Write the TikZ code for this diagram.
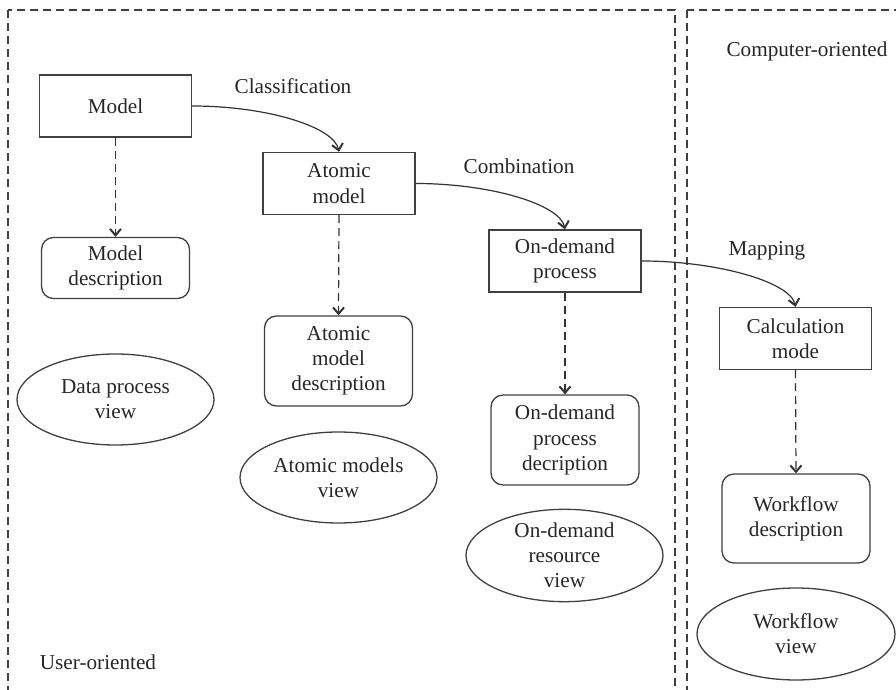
\documentclass[tikz,border=0pt]{standalone}
\usepackage{fontspec}
\setmainfont{Liberation Serif}
\usetikzlibrary{arrows.meta,shapes.geometric}
\begin{document}
\begin{tikzpicture}[x=0.5pt,y=-0.5pt,
  font=\fontsize{10.6pt}{12.6pt}\selectfont,
  every node/.style={text=black!85},
  region/.style={draw=black!75,line width=0.6pt,dash pattern=on 4pt off 2.5pt},
  procbox/.style={draw=black!75,line width=0.65pt,rectangle,minimum width=76pt,minimum height=31pt,inner sep=0pt,align=center},
  descbox/.style={draw=black!75,line width=0.65pt,rectangle,rounded corners=6pt,minimum width=74pt,inner sep=0pt,align=center},
  viewell/.style={draw=black!75,line width=0.65pt,ellipse,minimum width=98.5pt,minimum height=45.5pt,inner sep=0pt,align=center},
  lbl/.style={inner sep=0pt},
  flow/.style={draw=black!80,line width=0.6pt,-{Straight Barb[length=3.2pt,width=5.5pt,line width=1pt]}},
  dflow/.style={flow,dash pattern=on 4pt off 2.5pt}
]
\useasboundingbox (0,0) rectangle (896,690);
\clip (0,0) rectangle (896,690);
% regions
\draw[region] (8,10) rectangle (675,710);
\draw[region] (687,10) rectangle (920,710);
\node[lbl] (uo) at (98,662) {User-oriented};
\node[lbl] (co) at (807,51) {Computer-oriented};
% process boxes
\node[procbox] (model) at (115.5,106) {Model};
\node[procbox] (atomic) at (339,183.5) {Atomic\\model};
\node[procbox] (ondemand) at (565,261) {On-demand\\process};
\node[procbox] (calc) at (795.5,338.5) {Calculation\\mode};
% descriptions
\node[descbox,minimum height=30.5pt] (modeldesc) at (115.5,268) {Model\\description};
\node[descbox,minimum height=45pt] (atomicdesc) at (338.5,361) {Atomic\\model\\description};
\node[descbox,minimum height=45pt] (oddesc) at (565,440) {On-demand\\process\\decription};
\node[descbox,minimum height=44.5pt] (wfdesc) at (796,518.5) {Workflow\\description};
% views
\node[viewell] (dpview) at (115.5,399.5) {Data process\\view};
\node[viewell] (amview) at (338.5,477.5) {Atomic models\\view};
\node[viewell] (odview) at (564.5,555.5) {On-demand\\resource\\view};
\node[viewell,minimum width=99pt,minimum height=46pt] (wfview) at (796,634) {Workflow\\view};
% labels
\node[lbl] (lclass) at (293,86) {Classification};
\node[lbl] (lcomb) at (519,166) {Combination};
\node[lbl] (lmap) at (767,251) {Mapping};
% connectors
\draw[flow] (model.east) .. controls +(75,0) and +(-5,-25) .. (atomic.north);
\draw[flow] (atomic.east) .. controls +(75,0) and +(-5,-25) .. (ondemand.north);
\draw[flow] (ondemand.east) .. controls +(75,0) and +(-5,-25) .. (calc.north);
\draw[dflow] (model.south) -- (modeldesc.north);
\draw[dflow] (atomic.south) -- (atomicdesc.north);
\draw[dflow] (ondemand.south) -- (oddesc.north);
\draw[dflow] (calc.south) -- (wfdesc.north);
\end{tikzpicture}
\end{document}
